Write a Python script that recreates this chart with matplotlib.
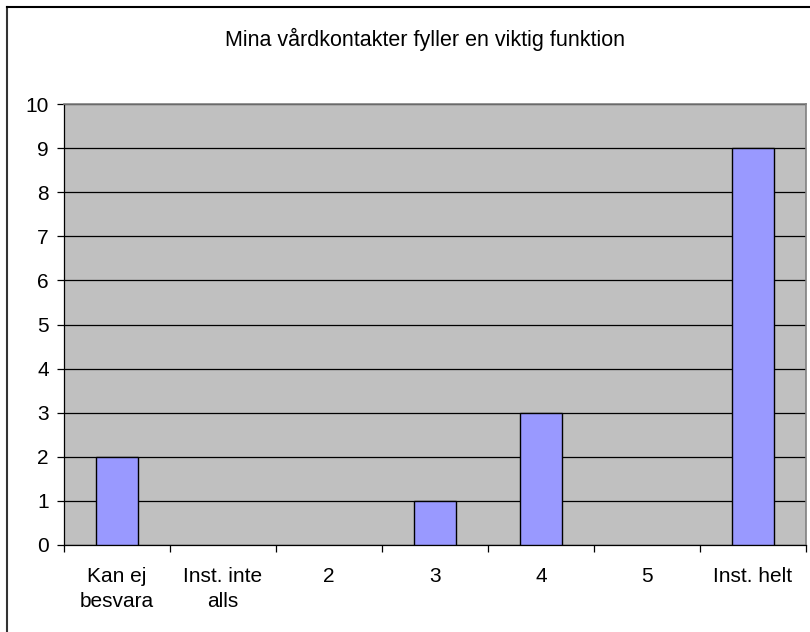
import matplotlib
matplotlib.use("Agg")
import matplotlib.pyplot as plt
from matplotlib.lines import Line2D
import numpy as np

# data
categories = ["Kan ej\nbesvara", "Inst. inte\nalls", "2", "3", "4", "5", "Inst. helt"]
counts = [2, 0, 0, 1, 3, 0, 9]
title = "Mina vårdkontakter fyller en viktig funktion"

plt.rcParams['font.family'] = ['Liberation Sans', 'DejaVu Sans']

fig = plt.figure(figsize=(8.10, 6.32), dpi=100)
ax = fig.add_axes([64/810, 1 - 545/632, (806-64)/810, (545-104)/632])

x = np.arange(len(categories))
ax.set_facecolor("#C0C0C0")
# zero-count bars get no outline, as in the reference
edge_w = [1.0 if c > 0 else 0 for c in counts]
ax.bar(x, counts, width=0.4, color="#9999FF", edgecolor="black", linewidth=edge_w, zorder=3)

ax.set_xlim(-0.5, len(categories) - 0.5)
ax.set_ylim(0, 10)
ax.set_yticks(range(0, 11))
ax.yaxis.grid(True, color="black", linewidth=0.9, zorder=1)
ax.set_axisbelow(True)

# category labels between boundary ticks
ax.set_xticks(np.arange(-0.5, len(categories), 1.0))
ax.set_xticklabels([])
ax.set_xticks(x, minor=True)
ax.set_xticklabels(categories, minor=True, fontsize=15, linespacing=1.38)
ax.tick_params(axis='x', which='minor', length=0, pad=16)
ax.tick_params(axis='x', which='major', length=5, width=0.9, direction='out')
ax.tick_params(axis='y', length=5, width=0.9, direction='out', labelsize=15, pad=6)

for side in ["top", "right"]:
    ax.spines[side].set_color("#808080")
    ax.spines[side].set_linewidth(1.2)
for side in ["left", "bottom"]:
    ax.spines[side].set_color("black")
    ax.spines[side].set_linewidth(0.9)

fig.text(425/810, 1 - 39/632, title, ha='center', va='center', fontsize=15.5)

# outer chart border (left and top visible)
fig.add_artist(Line2D([7/810, 7/810], [0, 1 - 7/632], color="#333333", linewidth=1.5,
                      transform=fig.transFigure))
fig.add_artist(Line2D([7/810, 1], [1 - 7/632, 1 - 7/632], color="black", linewidth=1.5,
                      transform=fig.transFigure))

fig.savefig("out.png", dpi=100)
